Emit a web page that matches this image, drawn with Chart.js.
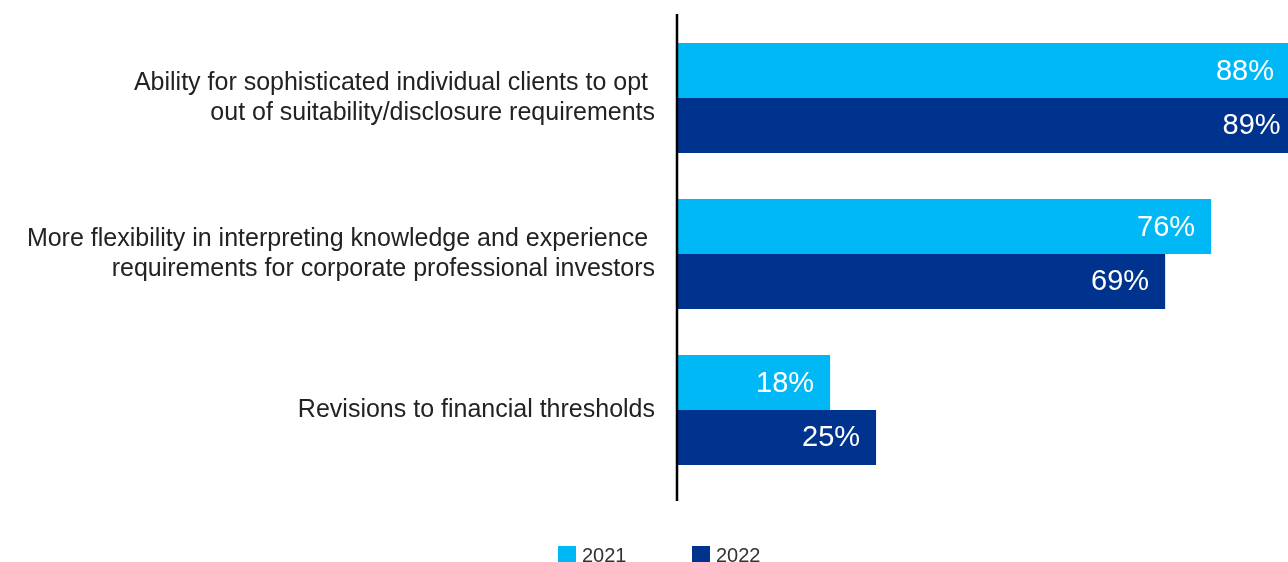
<!DOCTYPE html>
<html>
<head>
<meta charset="utf-8">
<script src="https://cdn.jsdelivr.net/npm/chart.js@4/dist/chart.umd.min.js"></script>
<style>
  html, body { margin: 0; padding: 0; background: #fff; overflow: hidden; }
  #wrap { width: 1288px; height: 562px; position: relative; }
</style>
</head>
<body>
<div id="wrap"><canvas id="chart"></canvas></div>
<script>
// survey answers, share of respondents (%)
var categories = [
    ['Ability for sophisticated individual clients to opt ', 'out of suitability/disclosure requirements'],
    ['More flexibility in interpreting knowledge and experience ', 'requirements for corporate professional investors'],
    'Revisions to financial thresholds'
];
var values2021 = [88, 76, 18];
var values2022 = [89, 69, 25];
var seriesNames = ['2021', '2022'];
var seriesColors = ['#00B8F5', '#00338D'];

var FONT = '"Liberation Sans", Arial, sans-serif';
var AXIS_MIN = -5.3;
var AXIS_MAX = 87.7;

// white "NN%" inside the end of every bar
var valueLabels = {
    id: 'valueLabels',
    afterDatasetsDraw: function (chart) {
        var ctx = chart.ctx;
        ctx.save();
        ctx.font = '29px ' + FONT;
        ctx.fillStyle = '#fff';
        ctx.textAlign = 'right';
        ctx.textBaseline = 'middle';
        chart.data.datasets.forEach(function (ds, i) {
            chart.getDatasetMeta(i).data.forEach(function (bar, j) {
                ctx.fillText(ds.data[j] + '%', bar.x - 16, bar.y + 1);
            });
        });
        ctx.restore();
    }
};

// the single vertical axis line, a bit longer than the plot area
var axisLine = {
    id: 'axisLine',
    afterDraw: function (chart) {
        var a = chart.chartArea;
        var ctx = chart.ctx;
        ctx.save();
        ctx.strokeStyle = '#000';
        ctx.lineWidth = 2.5;
        ctx.beginPath();
        ctx.moveTo(a.left, a.top - 6);
        ctx.lineTo(a.left, a.bottom + 13);
        ctx.stroke();
        ctx.restore();
    }
};

// small legend under the plot
var bottomLegend = {
    id: 'bottomLegend',
    afterDraw: function (chart) {
        var ctx = chart.ctx;
        var x = 558, y = 546, step = 134;
        ctx.save();
        ctx.font = '20px ' + FONT;
        ctx.textBaseline = 'middle';
        ctx.textAlign = 'left';
        chart.data.datasets.forEach(function (ds, i) {
            ctx.fillStyle = ds.backgroundColor;
            ctx.fillRect(x + i * step, y, 18, 18);
            ctx.fillStyle = '#333';
            ctx.fillText(ds.label, x + i * step + 24, y + 10);
        });
        ctx.restore();
    }
};

var chart = new Chart(document.getElementById('chart'), {
    type: 'bar',
    data: {
        labels: categories,
        datasets: [
            { label: seriesNames[0], data: values2021, backgroundColor: seriesColors[0] },
            { label: seriesNames[1], data: values2022, backgroundColor: seriesColors[1] }
        ]
    },
    options: {
        indexAxis: 'y',
        responsive: true,
        maintainAspectRatio: false,
        animation: false,
        layout: { padding: { top: 20, bottom: 74, left: 0, right: 0 } },
        datasets: {
            bar: {
                base: AXIS_MIN,
                barPercentage: 1,
                categoryPercentage: 0.705,
                borderWidth: 0
            }
        },
        scales: {
            x: {
                display: false,
                min: AXIS_MIN,
                max: AXIS_MAX
            },
            y: {
                grid: { display: false, drawTicks: false },
                border: { display: false },
                ticks: {
                    padding: 22,
                    color: '#222',
                    font: { family: FONT, size: 25, lineHeight: 1.2 },
                    autoSkip: false
                },
                afterFit: function (scale) {
                    scale.width = 677;
                    // labels sit well inside their bands, no extra room needed
                    scale.paddingTop = 0;
                    scale.paddingBottom = 0;
                }
            }
        },
        plugins: {
            legend: { display: false },
            tooltip: { enabled: false }
        }
    },
    plugins: [valueLabels, axisLine, bottomLegend]
});
</script>
</body>
</html>
